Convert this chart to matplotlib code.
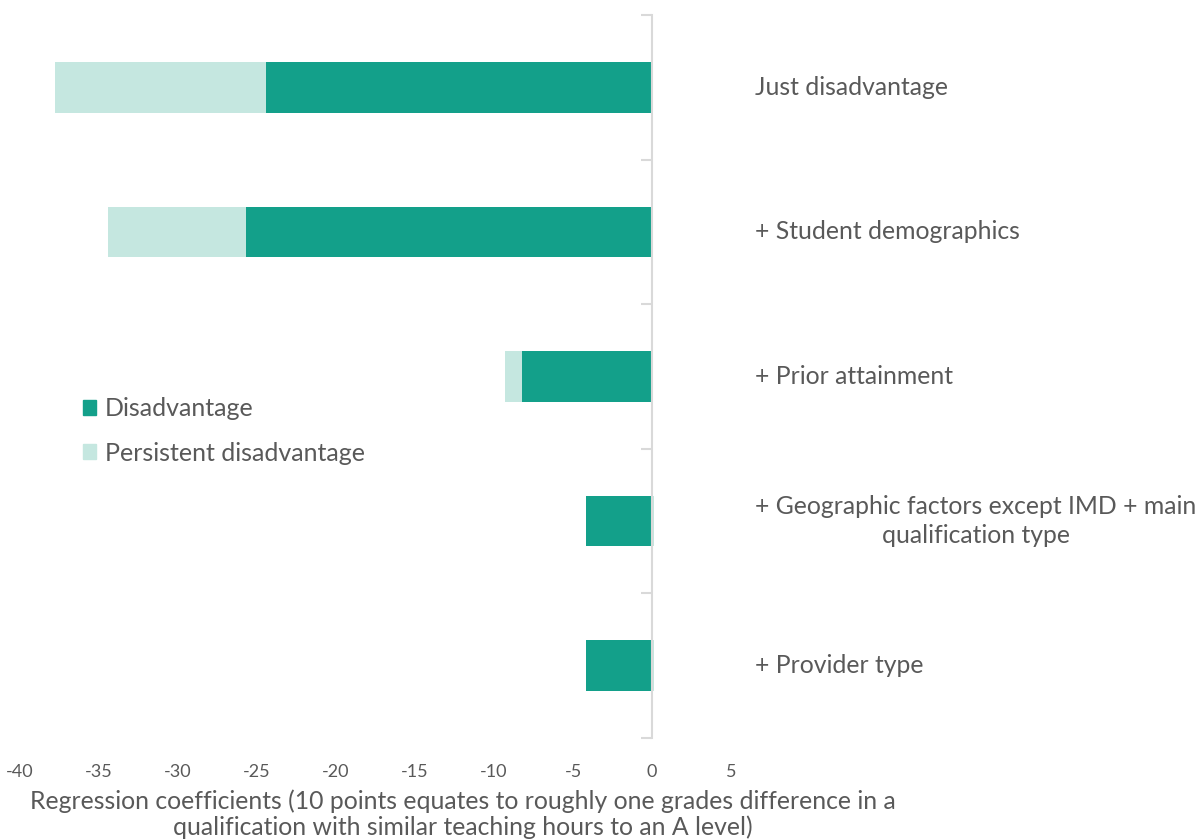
import numpy as np
import matplotlib.pyplot as plt
from matplotlib.patches import Patch
from matplotlib.transforms import blended_transform_factory

plt.rcParams['font.family'] = ['Lato', 'DejaVu Sans']

categories = ['Just disadvantage', '+ Student demographics', '+ Prior attainment',
              '+ Geographic factors except IMD + main\nqualification type', '+ Provider type']
disadvantage = np.array([-24.4, -25.7, -8.2, -4.2, -4.2])
persistent = np.array([-13.4, -8.7, -1.1, 0.1, 0.1])
xticks = [-40, -35, -30, -25, -20, -15, -10, -5, 0, 5]

dark = '#13A08A'
light = '#C5E7E0'
grey = '#595959'
axis_grey = '#D9D9D9'

fig = plt.figure(figsize=(11.96, 8.4), dpi=100)
ax = fig.add_axes([20 / 1196, 102 / 840, 711 / 1196, 723 / 840])

y = np.arange(len(categories))
bar_h = 0.35
ax.barh(y, disadvantage, height=bar_h, color=dark, label='Disadvantage')
# negatives stack beyond the dark bar, positives start at zero
left = np.where(persistent < 0, disadvantage, 0)
ax.barh(y, persistent, left=left, height=bar_h, color=light, label='Persistent disadvantage')

ax.set_xlim(-40, 5)
ax.set_ylim(len(categories) - 0.5, -0.5)
ax.set_xticks(xticks)
ax.set_xticklabels([str(t) for t in xticks])
ax.tick_params(axis='x', length=0, labelsize=13, labelcolor=grey, pad=19)

for s in ['top', 'right', 'bottom']:
    ax.spines[s].set_visible(False)
ax.spines['left'].set_position(('data', 0))
ax.spines['left'].set_color(axis_grey)
ax.spines['left'].set_linewidth(1.5)
ax.set_yticks(np.arange(-0.5, len(categories), 1.0))
ax.set_yticklabels([])
ax.tick_params(axis='y', length=8, width=1.5, color=axis_grey, direction='out')

trans = blended_transform_factory(ax.transAxes, ax.transData)
for yi, name in zip(y, categories):
    ax.text(1.034, yi, name, transform=trans, ha='left', va='center',
            multialignment='center', fontsize=17.8, color=grey, linespacing=1.3)

handles = [Patch(color=dark), Patch(color=light)]
fig.legend(handles, ['Disadvantage', 'Persistent disadvantage'], loc='upper left',
           bbox_to_anchor=(60 / 1196, 1 - 375 / 840), frameon=False, fontsize=18,
           labelcolor=grey, handlelength=0.55, handleheight=0.55, handletextpad=0.35,
           labelspacing=0.85)

fig.text(463 / 1196, 1 - 814 / 840,
         'Regression coefficients (10 points equates to roughly one grades difference in a\n'
         'qualification with similar teaching hours to an A level)',
         ha='center', va='center', fontsize=17.8, color=grey, linespacing=1.12)

fig.savefig('out.png', dpi=100)
